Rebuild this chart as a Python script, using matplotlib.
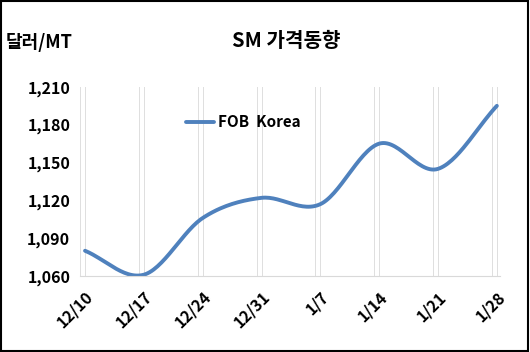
import numpy as np
import matplotlib.pyplot as plt
from matplotlib.patches import Rectangle

plt.rcParams['font.family'] = ['Noto Sans CJK KR', 'DejaVu Sans']

weeks = ['12/10', '12/17', '12/24', '12/31', '1/7', '1/14', '1/21', '1/28']
fob_korea = [1080, 1061, 1106, 1122, 1117, 1165, 1145, 1195]
yticks = [1060, 1090, 1120, 1150, 1180, 1210]


def smooth(x, y, n=30):
    # catmull-rom style curve, similar to excel "smoothed line"
    x = np.asarray(x, float)
    y = np.asarray(y, float)
    px = np.concatenate([[2 * x[0] - x[1]], x, [2 * x[-1] - x[-2]]])
    py = np.concatenate([[2 * y[0] - y[1]], y, [2 * y[-1] - y[-2]]])
    xs, ys = [], []
    for i in range(1, len(px) - 2):
        t = np.linspace(0, 1, n, endpoint=False)
        for p, out in ((px, xs), (py, ys)):
            p0, p1, p2, p3 = p[i - 1], p[i], p[i + 1], p[i + 2]
            out.extend(0.5 * (2 * p1 + (-p0 + p2) * t
                              + (2 * p0 - 5 * p1 + 4 * p2 - p3) * t ** 2
                              + (-p0 + 3 * p1 - 3 * p2 + p3) * t ** 3))
    xs.append(x[-1])
    ys.append(y[-1])
    return np.array(xs), np.array(ys)


fig = plt.figure(figsize=(5.3, 3.52), dpi=100)
fig.patches.append(Rectangle((0.002, 0.003), 0.995, 0.993, transform=fig.transFigure,
                             fill=False, edgecolor='black', linewidth=1.5))
ax = fig.add_axes([0.151, 0.216, 0.792, 0.537])

xpos = np.arange(len(weeks))
for i in xpos:
    ax.axvline(i - 0.085, color='#dedede', linewidth=0.7, zorder=0)
    ax.axvline(i, color='#dedede', linewidth=0.7, zorder=0)

sx, sy = smooth(xpos, fob_korea)
ax.plot(sx, sy, color='#4f81bd', linewidth=2.8, solid_capstyle='round', label='FOB  Korea')

ax.set_xlim(-0.085, len(weeks) - 1 + 0.05)
ax.set_ylim(yticks[0], yticks[-1])
ax.set_yticks(yticks)
ax.set_yticklabels([f'{v:,}' for v in yticks], fontsize=11.5, fontweight='bold')
ax.set_xticks(xpos)
ax.set_xticklabels(weeks, rotation=45, ha='right', rotation_mode='anchor',
                   fontsize=11.5, fontweight='bold')
ax.tick_params(length=0, pad=7)
ax.tick_params(axis='x', pad=9)
for s in ['top', 'right', 'left']:
    ax.spines[s].set_visible(False)
ax.spines['bottom'].set_color('#d9d9d9')

ax.legend(loc='upper left', bbox_to_anchor=(0.22, 0.93), frameon=False,
          prop={'weight': 'bold', 'size': 11}, handlelength=1.8, handletextpad=0.3)

fig.text(0.54, 0.885, 'SM 가격동향', ha='center', va='center', fontsize=14.5, fontweight='bold')
fig.text(0.01, 0.878, '달러/MT', ha='left', va='center', fontsize=13, fontweight='bold')

fig.savefig('out.png', dpi=100)
